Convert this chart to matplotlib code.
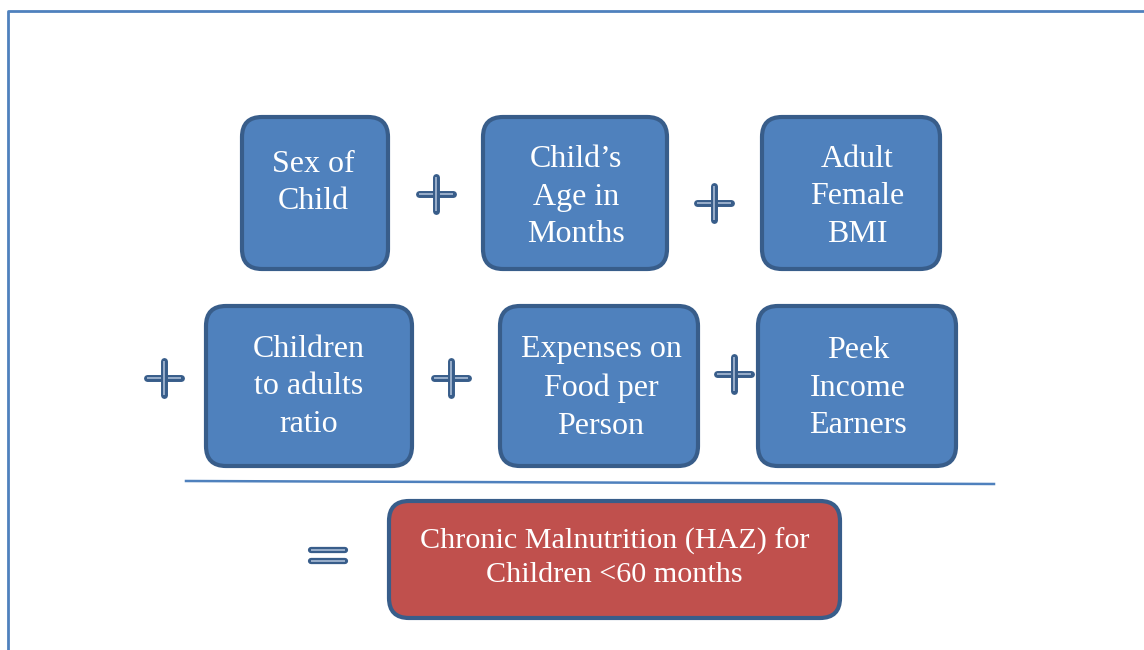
import matplotlib
matplotlib.use("Agg")
import matplotlib.pyplot as plt
from matplotlib.patches import FancyBboxPatch

# labels of the predictor boxes and the outcome
factors = ["Sex of\nChild", "Child\u2019s\nAge in\nMonths", "Adult\nFemale\nBMI",
           "Children\nto adults\nratio", "Expenses on\nFood per\nPerson", "Peek\nIncome\nEarners"]
outcome = "Chronic Malnutrition (HAZ) for\nChildren <60 months"

# layout in pixels (x0, y0, x1, y1), y measured from the top
boxes = [(242, 117, 388, 269), (483, 117, 667, 269), (762, 117, 940, 269),
         (206, 306, 412, 466), (500, 306, 698, 466), (758, 306, 956, 466)]
text_xy = [(313, 183), (576, 197), (857, 197), (309, 387), (601, 388), (858, 388)]
pluses = [(436, 194), (714, 203), (164, 378), (451, 378), (734, 374)]

BLUE = "#4f81bd"
EDGE = "#385d8a"
RED = "#c0504d"

fig = plt.figure(figsize=(11.44, 6.5), dpi=100)
ax = fig.add_axes([0, 0, 1, 1])
ax.set_xlim(0, 1144)
ax.set_ylim(650, 0)
ax.axis("off")

# outer frame (only left and top visible)
ax.plot([8, 8, 1150], [660, 11, 11], color=BLUE, lw=2, solid_capstyle="butt")


def rbox(x0, y0, x1, y1, fc):
    p = FancyBboxPatch((x0, y0), x1 - x0, y1 - y0,
                       boxstyle="round,pad=0,rounding_size=20",
                       fc=fc, ec=EDGE, lw=3)
    ax.add_patch(p)


for (x0, y0, x1, y1), lab, (tx, ty) in zip(boxes, factors, text_xy):
    rbox(x0, y0, x1, y1, BLUE)
    ax.text(tx, ty, lab, ha="center", va="center", color="white",
            fontsize=23, family="Liberation Serif", linespacing=1.4)


def plus(cx, cy, s=17):
    for xs, ys in [([cx - s, cx + s], [cy, cy]), ([cx, cx], [cy - s, cy + s])]:
        ax.plot(xs, ys, color=EDGE, lw=5, solid_capstyle="round")
        ax.plot(xs, ys, color="#a9bcd6", lw=1.2, solid_capstyle="butt")


for cx, cy in pluses:
    plus(cx, cy)

# fraction line
ax.plot([186, 994], [481, 484], color=BLUE, lw=1.8)

# equals sign
for yy in [550, 561]:
    ax.plot([311, 345], [yy, yy], color=EDGE, lw=4.5, solid_capstyle="round")
    ax.plot([311, 345], [yy, yy], color="#a9bcd6", lw=1.2, solid_capstyle="butt")

rbox(389, 501, 840, 618, RED)
ax.text(614.5, 558, outcome, ha="center", va="center", color="white",
        fontsize=21.7, family="Liberation Serif", linespacing=1.38)

fig.savefig("out.png", dpi=100)
